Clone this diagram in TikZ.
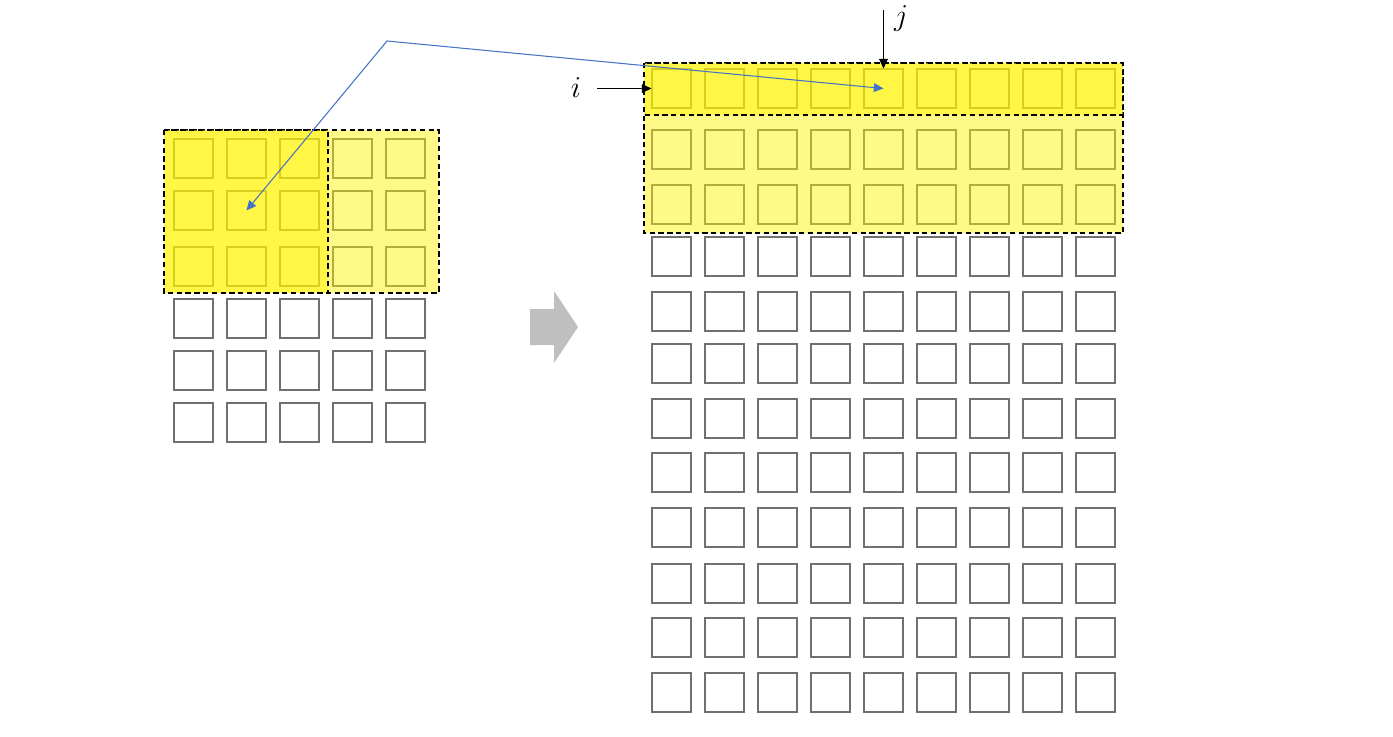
\documentclass[tikz,border=0pt]{standalone}
\usetikzlibrary{calc, positioning, arrows.meta}

\definecolor{cellgray}{HTML}{707070}
\definecolor{linkblue}{HTML}{4472C4}
\definecolor{blockgray}{HTML}{BFBFBF}

\tikzset{
	cell/.style={draw=cellgray, line width=0.6pt, minimum size=0.78cm, inner sep=0pt},
	zone/.style={fill=yellow, fill opacity=0.47, draw=black, dash pattern=on 3pt off 2pt, line width=1pt},
	hot/.style={fill=yellow, fill opacity=0.49, draw=black, dash pattern=on 3pt off 2pt, line width=1pt},
}

\begin{document}
\begin{tikzpicture}[x=0.02cm, y=-0.02cm, >={Triangle[length=5.5pt, width=5pt]}]
	\useasboundingbox (0,0) rectangle (1393,737);

	% small input grid
	\foreach \r/\y in {1/139,2/191,3/247,4/299,5/351,6/403}{
			\foreach \c in {1,...,5}{
					\node[cell] (l-\r-\c) at ({174+53*(\c-1)+19.5}, \y+19.5) {};
				}
		}

	% large output grid
	\foreach \r/\y in {1/69,2/130,3/185,4/237,5/292,6/344,7/399,8/453,9/508,10/564,11/618,12/673}{
			\foreach \c in {1,...,9}{
					\node[cell] (r-\r-\c) at ({652+53*(\c-1)+19.5}, \y+19.5) {};
				}
		}

	% highlighted zones
	\draw[zone] (164,130) rectangle (439,293);
	\draw[hot] (164,130) rectangle (328,293);
	\draw[zone] (644,63) rectangle (1123,233);
	\draw[hot] (644,63) rectangle (1123,115);

	% block arrow
	\fill[blockgray] (530,309) -- (554,309) -- (554,291) -- (578,327) -- (554,363) -- (554,345) -- (530,345) -- cycle;

	% indices
	\node[font=\LARGE] (i) at (576,88) {$i$};
	\node[font=\LARGE] (j) at (901,19) {$j$};
	\coordinate (jtop) at (883.5,10);
	\draw[->] ([xshift=0.2cm]i.east |- r-1-1.west) -- (r-1-1.west);
	\draw[->] (jtop) -- (r-1-5.north);

	% link between the two grids
	\coordinate (bend) at (387,41);
	\draw[linkblue, <->, line width=0.6pt] (l-2-2.center) -- (bend) -- (r-1-5.center);

\end{tikzpicture}
\end{document}
